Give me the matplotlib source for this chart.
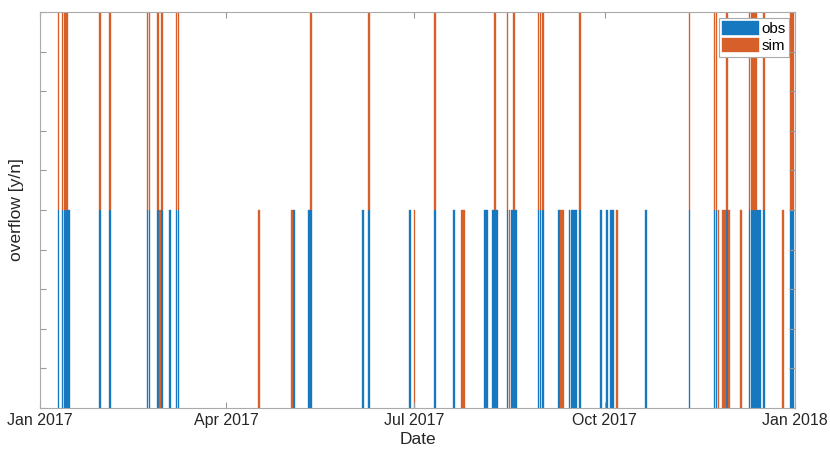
#!/usr/bin/env python3
import numpy as np
import matplotlib
matplotlib.use("Agg")
import matplotlib.pyplot as plt
import matplotlib.dates as mdates

# days (offset from 1 Jan 2017) with an overflow event
obs_days = [9, 11, 12, 13, 14, 29, 34, 52, 53, 57, 59, 63, 66, 67, 123, 130, 131,
            156, 159, 179, 191, 200, 215, 216, 219, 220, 221, 226, 228, 229, 230,
            241, 242, 243, 251, 256, 257, 258, 259, 261, 271, 274, 276, 277, 293,
            314, 326, 327, 332, 343, 344, 345, 346, 347, 348, 350, 363, 364]
sim_days = [9, 11, 12, 13, 29, 34, 52, 53, 57, 58, 59, 66, 67, 106, 122, 131, 159,
            181, 191, 204, 205, 220, 226, 227, 229, 241, 242, 243, 252, 253, 261,
            279, 314, 326, 327, 328, 330, 331, 332, 333, 339, 343, 344, 345, 346,
            350, 359, 363, 364]
tick_dates = ["2017-01-01", "2017-04-01", "2017-07-01", "2017-10-01", "2018-01-01"]

start = np.datetime64("2017-01-01")
days = np.arange(365)
dates = start + days.astype("timedelta64[D]")
obs = np.isin(days, obs_days).astype(float)
sim = np.isin(days, sim_days).astype(float)

plt.rcParams["font.family"] = ["Liberation Sans", "DejaVu Sans"]

blue = "#1679bf"
orange = "#d65f2a"

fig = plt.figure(figsize=(8.3, 4.57), dpi=100)
ax = fig.add_axes([0.048, 0.107, 0.910, 0.867])

x = mdates.date2num(dates)
m = obs > 0
ax.bar(x[m], obs[m], width=0.85, color=blue, edgecolor=blue, linewidth=0.25, label="obs")
s = sim > 0
ax.bar(x[s], sim[s], width=0.85, bottom=obs[s], color=orange, edgecolor=orange,
       linewidth=0.25, label="sim")

ax.set_xlim(mdates.date2num(np.datetime64("2017-01-01")),
            mdates.date2num(np.datetime64("2018-01-01")))
ax.set_ylim(0, 2)
ax.set_xticks(mdates.date2num(np.array(tick_dates, dtype="datetime64[D]")))
ax.xaxis.set_major_formatter(mdates.DateFormatter("%b %Y"))
ax.set_yticks(np.arange(0, 2.01, 0.2))
ax.set_yticklabels([])

ax.tick_params(direction="in", top=True, right=True, length=4, width=0.8,
               color="#999999", labelsize=11.5, labelcolor="#262626")
for sp in ax.spines.values():
    sp.set_color("#aaaaaa")
    sp.set_linewidth(0.8)

ax.set_xlabel("Date", fontsize=12.5, color="#262626", labelpad=3)
ax.set_ylabel("overflow [y/n]", fontsize=12.5, color="#262626", labelpad=8)

leg = ax.legend(loc="upper right", fontsize=11, handlelength=2.4, handleheight=1.0,
                borderpad=0.2, labelspacing=0.15, handletextpad=0.2,
                borderaxespad=0.4, fancybox=False, framealpha=1)
leg.get_frame().set_edgecolor("#aaaaaa")
leg.get_frame().set_linewidth(0.8)

fig.savefig("out.png", dpi=100)
